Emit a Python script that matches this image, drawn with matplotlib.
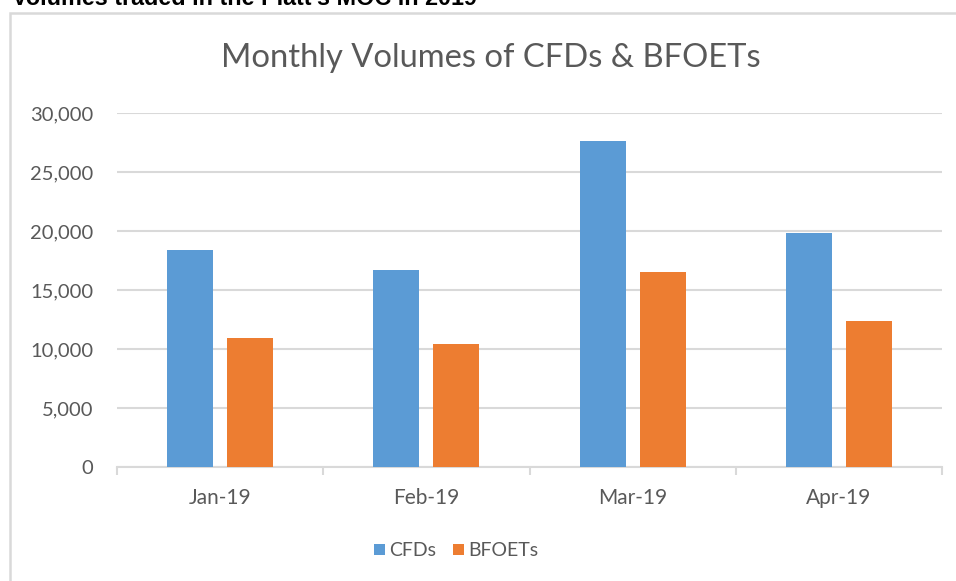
import numpy as np
import matplotlib.pyplot as plt
from matplotlib.patches import Rectangle

months = ['Jan-19', 'Feb-19', 'Mar-19', 'Apr-19']
cfds = [18350, 16700, 27650, 19850]
bfoets = [10900, 10400, 16550, 12400]

blue = '#5B9BD5'
orange = '#ED7D31'
grey_txt = '#595959'
grid_col = '#D9D9D9'

plt.rcParams['font.family'] = ['Lato', 'DejaVu Sans']

W, H = 956, 581
fig = plt.figure(figsize=(W / 100, H / 100), dpi=100)
fig.patch.set_facecolor('white')

# outer chart frame (cut by image edges on right and bottom)
frame = Rectangle((10 / W, -0.1), 1.2, 1 - 13 / H + 0.1, transform=fig.transFigure,
                  fill=False, edgecolor=grid_col, linewidth=1.8, clip_on=False)
fig.patches.append(frame)

# bold heading above the chart, cut by the top edge like in the source
fig.text(12 / W, 1 - 5 / H, "Volumes traded in the Platt's MOC in 2019",
         family=['Liberation Sans', 'DejaVu Sans'], weight='bold', fontsize=16.8,
         color='black', ha='left', va='baseline')

ax = fig.add_axes([117 / W, 1 - 467 / H, (942 - 117) / W, (467 - 113) / H])
x = np.arange(len(months))
bw = 0.223
off = 0.145
ax.bar(x - off, cfds, bw, color=blue, label='CFDs', zorder=3)
ax.bar(x + off, bfoets, bw, color=orange, label='BFOETs', zorder=3)

ax.set_xlim(-0.5, len(months) - 0.5)
ax.set_ylim(0, 30000)
ax.set_yticks(np.arange(0, 30001, 5000))
ax.set_yticklabels([f'{v:,}' for v in range(0, 30001, 5000)])
ax.yaxis.grid(True, color=grid_col, linewidth=1.5, zorder=0)
ax.set_axisbelow(True)

ax.set_xticks(x)
ax.set_xticklabels(months)
ax.set_xticks(np.arange(-0.5, len(months)), minor=True)
ax.tick_params(axis='x', which='major', length=0, pad=15, labelsize=15, labelcolor=grey_txt)
ax.tick_params(axis='x', which='minor', length=6, width=1.5, color=grid_col, direction='out')
ax.tick_params(axis='y', length=0, pad=17, labelsize=14.5, labelcolor=grey_txt)

for s in ['top', 'right', 'left']:
    ax.spines[s].set_visible(False)
ax.spines['bottom'].set_color(grid_col)
ax.spines['bottom'].set_linewidth(1.5)

fig.text(491 / W, 1 - 67 / H, 'Monthly Volumes of CFDs & BFOETs', ha='center',
         va='baseline', fontsize=23.6, color=grey_txt)

fig.legend(loc='center', bbox_to_anchor=(456 / W, 1 - 551 / H), ncol=2, frameon=False,
           fontsize=14, labelcolor=grey_txt, handlelength=0.55, handleheight=0.55,
           handletextpad=0.2, columnspacing=0.9)

fig.savefig('out.png', dpi=100)
